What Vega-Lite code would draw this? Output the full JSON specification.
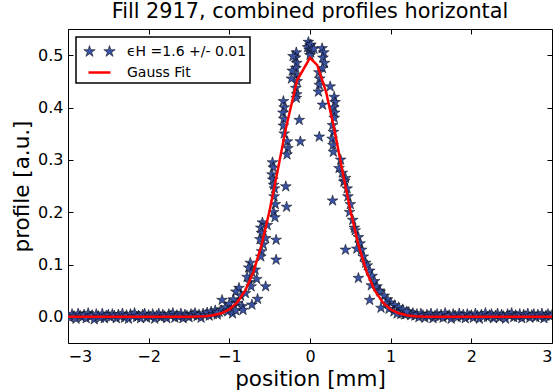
{
  "$schema": "https://vega.github.io/schema/vega-lite/v6.json",
  "width": 484,
  "height": 314,
  "autosize": {"type": "none"},
  "padding": {"left": 68, "top": 29, "right": 5, "bottom": 49},
  "background": "white",
  "title": {"text": "Fill 2917, combined profiles horizontal", "font": "DejaVu Sans", "fontSize": 20.8, "fontWeight": "normal", "color": "black", "anchor": "middle", "frame": "group", "offset": 6},
  "config": {
    "view": {"stroke": "black", "strokeWidth": 1},
    "axis": {"labelFont": "DejaVu Sans", "titleFont": "DejaVu Sans", "labelFontSize": 16, "titleFontSize": 21.5, "labelColor": "black", "titleColor": "black", "titleFontWeight": "normal", "grid": false, "domain": false, "tickColor": "black", "tickSize": -5, "labelPadding": 10},
    "legend": {"orient": "top-left", "offset": 8, "padding": 3, "strokeColor": "black", "strokeWidth": 1.5, "fillColor": "white", "labelFont": "DejaVu Sans", "labelFontSize": 14, "labelColor": "black", "symbolSize": 484, "symbolOffset": 8, "labelOffset": 15, "rowPadding": 1, "title": null, "symbolOpacity": 1}
  },
  "datasets": {
    "profile": [
      {"x": -3.000, "y": 0.003}, {"x": -2.975, "y": -0.002}, {"x": -2.950, "y": 0.005}, {"x": -2.925, "y": 0.001}, {"x": -2.900, "y": -0.004}, {"x": -2.875, "y": 0.006}, {"x": -2.850, "y": 0.002}, {"x": -2.825, "y": -0.001}, {"x": -2.800, "y": 0.004}, {"x": -2.775, "y": -0.003},
      {"x": -2.750, "y": 0.007}, {"x": -2.725, "y": 0.000}, {"x": -2.700, "y": 0.003}, {"x": -2.675, "y": -0.005}, {"x": -2.650, "y": 0.005}, {"x": -2.625, "y": 0.001}, {"x": -2.600, "y": -0.002}, {"x": -2.575, "y": 0.006}, {"x": -2.550, "y": -0.003}, {"x": -2.525, "y": 0.002},
      {"x": -2.500, "y": 0.004}, {"x": -2.475, "y": -0.001}, {"x": -2.450, "y": 0.005}, {"x": -2.425, "y": 0.002}, {"x": -2.400, "y": -0.003}, {"x": -2.375, "y": 0.004}, {"x": -2.350, "y": 0.000}, {"x": -2.325, "y": 0.006}, {"x": -2.300, "y": -0.002}, {"x": -2.275, "y": 0.003},
      {"x": -2.250, "y": -0.004}, {"x": -2.225, "y": 0.005}, {"x": -2.200, "y": 0.001}, {"x": -2.175, "y": 0.007}, {"x": -2.150, "y": -0.001}, {"x": -2.125, "y": 0.002}, {"x": -2.100, "y": -0.003}, {"x": -2.075, "y": 0.004}, {"x": -2.050, "y": 0.006}, {"x": -2.025, "y": -0.002},
      {"x": -2.000, "y": 0.003}, {"x": -1.975, "y": 0.000}, {"x": -1.950, "y": 0.005}, {"x": -1.925, "y": -0.004}, {"x": -1.900, "y": 0.002}, {"x": -1.875, "y": 0.006}, {"x": -1.850, "y": -0.001}, {"x": -1.825, "y": 0.004}, {"x": -1.800, "y": 0.001}, {"x": -1.775, "y": -0.003},
      {"x": -1.750, "y": 0.005}, {"x": -1.725, "y": 0.002}, {"x": -1.700, "y": 0.007}, {"x": -1.675, "y": -0.002}, {"x": -1.650, "y": 0.003}, {"x": -1.625, "y": 0.000}, {"x": -1.600, "y": 0.006}, {"x": -1.575, "y": -0.003}, {"x": -1.550, "y": 0.004}, {"x": -1.525, "y": 0.002},
      {"x": -1.500, "y": -0.001}, {"x": -1.475, "y": 0.005}, {"x": -1.450, "y": 0.003}, {"x": -1.425, "y": 0.007}, {"x": -1.400, "y": 0.001}, {"x": -1.375, "y": 0.004}, {"x": -1.350, "y": -0.002}, {"x": -1.325, "y": 0.006}, {"x": -1.300, "y": 0.003}, {"x": -1.275, "y": 0.008},
      {"x": -1.250, "y": 0.002}, {"x": -1.225, "y": 0.010}, {"x": -1.200, "y": 0.005}, {"x": -1.175, "y": 0.012}, {"x": -1.150, "y": 0.004}, {"x": -1.125, "y": 0.009},
      {"x": 1.125, "y": 0.005}, {"x": 1.150, "y": 0.011}, {"x": 1.175, "y": 0.004},
      {"x": 1.200, "y": 0.006}, {"x": 1.225, "y": 0.009}, {"x": 1.250, "y": 0.003}, {"x": 1.275, "y": 0.007}, {"x": 1.300, "y": 0.002}, {"x": 1.325, "y": 0.005}, {"x": 1.350, "y": -0.001}, {"x": 1.375, "y": 0.006}, {"x": 1.400, "y": 0.003}, {"x": 1.425, "y": -0.002},
      {"x": 1.450, "y": 0.004}, {"x": 1.475, "y": 0.001}, {"x": 1.500, "y": 0.006}, {"x": 1.525, "y": -0.003}, {"x": 1.550, "y": 0.002}, {"x": 1.575, "y": 0.005}, {"x": 1.600, "y": 0.000}, {"x": 1.625, "y": 0.004}, {"x": 1.650, "y": -0.002}, {"x": 1.675, "y": 0.007},
      {"x": 1.700, "y": 0.001}, {"x": 1.725, "y": 0.003}, {"x": 1.750, "y": -0.004}, {"x": 1.775, "y": 0.005}, {"x": 1.800, "y": 0.002}, {"x": 1.825, "y": -0.001}, {"x": 1.850, "y": 0.006}, {"x": 1.875, "y": 0.000}, {"x": 1.900, "y": 0.004}, {"x": 1.925, "y": -0.003},
      {"x": 1.950, "y": 0.005}, {"x": 1.975, "y": 0.001}, {"x": 2.000, "y": 0.003}, {"x": 2.025, "y": -0.002}, {"x": 2.050, "y": 0.006}, {"x": 2.075, "y": 0.002}, {"x": 2.100, "y": -0.004}, {"x": 2.125, "y": 0.004}, {"x": 2.150, "y": 0.000}, {"x": 2.175, "y": 0.007},
      {"x": 2.200, "y": -0.001}, {"x": 2.225, "y": 0.003}, {"x": 2.250, "y": 0.005}, {"x": 2.275, "y": -0.003}, {"x": 2.300, "y": 0.002}, {"x": 2.325, "y": 0.006}, {"x": 2.350, "y": -0.002}, {"x": 2.375, "y": 0.004}, {"x": 2.400, "y": 0.001}, {"x": 2.425, "y": -0.004},
      {"x": 2.450, "y": 0.005}, {"x": 2.475, "y": 0.002}, {"x": 2.500, "y": 0.007}, {"x": 2.525, "y": -0.001}, {"x": 2.550, "y": 0.003}, {"x": 2.575, "y": 0.000}, {"x": 2.600, "y": 0.005}, {"x": 2.625, "y": -0.003}, {"x": 2.650, "y": 0.004}, {"x": 2.675, "y": 0.001},
      {"x": 2.700, "y": 0.006}, {"x": 2.725, "y": -0.002}, {"x": 2.750, "y": 0.003}, {"x": 2.775, "y": 0.005}, {"x": 2.800, "y": -0.001}, {"x": 2.825, "y": 0.004}, {"x": 2.850, "y": 0.000}, {"x": 2.875, "y": 0.006}, {"x": 2.900, "y": -0.003}, {"x": 2.925, "y": 0.002},
      {"x": 2.950, "y": 0.005}, {"x": 2.975, "y": 0.001}, {"x": 3.000, "y": 0.003},

      {"x": -0.02, "y": 0.525}, {"x": 0.00, "y": 0.518}, {"x": -0.01, "y": 0.510}, {"x": 0.01, "y": 0.505}, {"x": -0.03, "y": 0.515},
      {"x": -0.17, "y": 0.505}, {"x": -0.18, "y": 0.495}, {"x": -0.165, "y": 0.485}, {"x": -0.175, "y": 0.475}, {"x": -0.17, "y": 0.462}, {"x": -0.16, "y": 0.450}, {"x": -0.175, "y": 0.437}, {"x": -0.165, "y": 0.425}, {"x": -0.17, "y": 0.418},
      {"x": -0.22, "y": 0.470}, {"x": -0.23, "y": 0.455}, {"x": -0.21, "y": 0.498},
      {"x": -0.33, "y": 0.412}, {"x": -0.32, "y": 0.400}, {"x": -0.335, "y": 0.390}, {"x": -0.325, "y": 0.378}, {"x": -0.33, "y": 0.365}, {"x": -0.32, "y": 0.350},
      {"x": -0.28, "y": 0.335}, {"x": -0.275, "y": 0.322}, {"x": -0.285, "y": 0.310},
      {"x": -0.465, "y": 0.295}, {"x": -0.455, "y": 0.285}, {"x": -0.47, "y": 0.272}, {"x": -0.46, "y": 0.262}, {"x": -0.45, "y": 0.252},
      {"x": -0.44, "y": 0.245}, {"x": -0.445, "y": 0.230}, {"x": -0.43, "y": 0.215}, {"x": -0.45, "y": 0.200}, {"x": -0.435, "y": 0.190},
      {"x": -0.59, "y": 0.180}, {"x": -0.61, "y": 0.170}, {"x": -0.60, "y": 0.160}, {"x": -0.62, "y": 0.148}, {"x": -0.58, "y": 0.138}, {"x": -0.60, "y": 0.125}, {"x": -0.61, "y": 0.115}, {"x": -0.55, "y": 0.150}, {"x": -0.53, "y": 0.175},
      {"x": -0.74, "y": 0.103}, {"x": -0.76, "y": 0.094}, {"x": -0.72, "y": 0.085}, {"x": -0.78, "y": 0.076}, {"x": -0.75, "y": 0.066}, {"x": -0.73, "y": 0.058}, {"x": -0.68, "y": 0.090}, {"x": -0.66, "y": 0.072},
      {"x": -0.88, "y": 0.055}, {"x": -0.92, "y": 0.048}, {"x": -0.86, "y": 0.040}, {"x": -0.95, "y": 0.033}, {"x": -0.90, "y": 0.026}, {"x": -0.84, "y": 0.020}, {"x": -0.80, "y": 0.045}, {"x": -0.98, "y": 0.018},
      {"x": -1.00, "y": 0.025}, {"x": -1.05, "y": 0.018}, {"x": -1.10, "y": 0.012}, {"x": -1.15, "y": 0.008}, {"x": -1.02, "y": 0.010}, {"x": -0.96, "y": 0.006}, {"x": -0.92, "y": 0.012},
      {"x": -0.133, "y": 0.376}, {"x": -0.12, "y": 0.335}, {"x": -0.30, "y": 0.249}, {"x": -0.29, "y": 0.210}, {"x": -0.42, "y": 0.147}, {"x": -0.42, "y": 0.109}, {"x": -0.55, "y": 0.058}, {"x": -1.09, "y": 0.032}, {"x": -0.72, "y": 0.023}, {"x": -0.83, "y": 0.013}, {"x": -0.65, "y": 0.034},

      {"x": 0.01, "y": 0.520}, {"x": 0.02, "y": 0.510}, {"x": 0.00, "y": 0.500}, {"x": 0.05, "y": 0.512},
      {"x": 0.15, "y": 0.513}, {"x": 0.17, "y": 0.505}, {"x": 0.16, "y": 0.495}, {"x": 0.18, "y": 0.485}, {"x": 0.155, "y": 0.475},
      {"x": 0.11, "y": 0.467}, {"x": 0.12, "y": 0.455}, {"x": 0.115, "y": 0.443}, {"x": 0.105, "y": 0.430},
      {"x": 0.30, "y": 0.420}, {"x": 0.31, "y": 0.410}, {"x": 0.295, "y": 0.400}, {"x": 0.305, "y": 0.390}, {"x": 0.30, "y": 0.380}, {"x": 0.25, "y": 0.440},
      {"x": 0.28, "y": 0.366}, {"x": 0.29, "y": 0.353}, {"x": 0.275, "y": 0.340}, {"x": 0.285, "y": 0.328}, {"x": 0.29, "y": 0.315},
      {"x": 0.36, "y": 0.284}, {"x": 0.40, "y": 0.275}, {"x": 0.44, "y": 0.265}, {"x": 0.42, "y": 0.258}, {"x": 0.38, "y": 0.300},
      {"x": 0.43, "y": 0.260}, {"x": 0.46, "y": 0.245}, {"x": 0.47, "y": 0.230}, {"x": 0.50, "y": 0.215}, {"x": 0.49, "y": 0.200}, {"x": 0.53, "y": 0.185}, {"x": 0.55, "y": 0.170},
      {"x": 0.56, "y": 0.165}, {"x": 0.60, "y": 0.152}, {"x": 0.62, "y": 0.140}, {"x": 0.64, "y": 0.128}, {"x": 0.66, "y": 0.115}, {"x": 0.69, "y": 0.103}, {"x": 0.58, "y": 0.130},
      {"x": 0.71, "y": 0.098}, {"x": 0.74, "y": 0.088}, {"x": 0.77, "y": 0.078}, {"x": 0.80, "y": 0.068}, {"x": 0.83, "y": 0.058}, {"x": 0.86, "y": 0.050}, {"x": 0.76, "y": 0.060},
      {"x": 0.87, "y": 0.048}, {"x": 0.92, "y": 0.040}, {"x": 0.96, "y": 0.033}, {"x": 1.00, "y": 0.027}, {"x": 1.05, "y": 0.022}, {"x": 0.94, "y": 0.025}, {"x": 0.98, "y": 0.015},
      {"x": 1.10, "y": 0.018}, {"x": 1.15, "y": 0.014}, {"x": 1.20, "y": 0.010}, {"x": 1.04, "y": 0.010}, {"x": 1.08, "y": 0.006},
      {"x": 0.156, "y": 0.405}, {"x": 0.115, "y": 0.344}, {"x": 0.28, "y": 0.222}, {"x": 0.44, "y": 0.128}, {"x": 0.60, "y": 0.074}, {"x": 0.74, "y": 0.032}, {"x": 0.88, "y": 0.017}
    ],
    "fit": [
      {"x": -3.0, "y": 0}, {"x": -2.5, "y": 0}, {"x": -2.0, "y": 0}, {"x": -1.6, "y": 0}, {"x": -1.5, "y": 0.0002}, {"x": -1.4, "y": 0.0005}, {"x": -1.3, "y": 0.0012}, {"x": -1.2, "y": 0.003}, {"x": -1.1, "y": 0.0067}, {"x": -1.0, "y": 0.0141},
      {"x": -0.9, "y": 0.0278}, {"x": -0.8, "y": 0.0509}, {"x": -0.7, "y": 0.0867}, {"x": -0.6, "y": 0.1376}, {"x": -0.5, "y": 0.2035}, {"x": -0.4, "y": 0.2802}, {"x": -0.3, "y": 0.3594}, {"x": -0.16, "y": 0.452}, {"x": 0.0, "y": 0.495},
      {"x": 0.09, "y": 0.481}, {"x": 0.2, "y": 0.4294}, {"x": 0.3, "y": 0.3594}, {"x": 0.4, "y": 0.2802}, {"x": 0.5, "y": 0.2035}, {"x": 0.6, "y": 0.1376}, {"x": 0.7, "y": 0.0867}, {"x": 0.8, "y": 0.0509}, {"x": 0.9, "y": 0.0278}, {"x": 1.0, "y": 0.0141},
      {"x": 1.1, "y": 0.0067}, {"x": 1.2, "y": 0.003}, {"x": 1.3, "y": 0.0012}, {"x": 1.4, "y": 0.0005}, {"x": 1.5, "y": 0.0002}, {"x": 1.6, "y": 0}, {"x": 2.0, "y": 0}, {"x": 2.5, "y": 0}, {"x": 3.0, "y": 0}
    ]
  },
  "layer": [
    {
      "data": {"name": "profile"},
      "mark": {"type": "point", "shape": "M0,-1L0.2245,-0.309L0.951,-0.309L0.363,0.118L0.588,0.809L0,0.382L-0.588,0.809L-0.363,0.118L-0.951,-0.309L-0.2245,-0.309Z", "size": 130, "filled": true, "stroke": "black", "strokeWidth": 0.5, "opacity": 1, "clip": true},
      "encoding": {
        "x": {"field": "x", "type": "quantitative", "scale": {"domain": [-3, 3], "nice": false, "zero": false}, "axis": {"orient": "bottom", "title": "position [mm]", "values": [-3, -2, -1, 0, 1, 2, 3], "format": "d"}},
        "y": {"field": "y", "type": "quantitative", "scale": {"domain": [-0.05, 0.55], "nice": false, "zero": false}, "axis": {"orient": "left", "title": "profile [a.u.]", "values": [0, 0.1, 0.2, 0.3, 0.4, 0.5], "format": ".1f"}},
        "color": {"datum": "ϵH =1.6 +/- 0.01", "type": "nominal", "scale": {"domain": ["ϵH =1.6 +/- 0.01", "Gauss Fit"], "range": ["#3a52a4", "#ff0000"]}}
      }
    },
    {
      "data": {"name": "fit"},
      "mark": {"type": "point", "filled": true, "opacity": 0, "size": 1},
      "encoding": {
        "x": {"field": "x", "type": "quantitative", "axis": null},
        "y": {"field": "y", "type": "quantitative", "axis": null},
        "shape": {"datum": "Gauss Fit", "type": "nominal", "scale": {"domain": ["ϵH =1.6 +/- 0.01", "Gauss Fit"], "range": ["M-0.91,-0.55L-0.7865,-0.17L-0.387,-0.17L-0.7103,0.0649L-0.587,0.445L-0.91,0.21L-1.233,0.445L-1.1097,0.0649L-1.433,-0.17L-1.0335,-0.17ZM0.91,-0.55L1.0335,-0.17L1.433,-0.17L1.1097,0.0649L1.233,0.445L0.91,0.21L0.587,0.445L0.7103,0.0649L0.387,-0.17L0.7865,-0.17Z", "stroke"]}},
        "stroke": {"datum": "Gauss Fit", "type": "nominal", "scale": {"domain": ["ϵH =1.6 +/- 0.01", "Gauss Fit"], "range": ["#000000", "#ff0000"]}},
        "strokeWidth": {"datum": "Gauss Fit", "type": "nominal", "scale": {"domain": ["ϵH =1.6 +/- 0.01", "Gauss Fit"], "range": [0.5, 2.5]}}
      }
    },
    {
      "data": {"name": "fit"},
      "mark": {"type": "line", "strokeWidth": 2.5, "clip": true, "color": "#ff0000"},
      "encoding": {
        "x": {"field": "x", "type": "quantitative", "scale": {"domain": [-3, 3], "nice": false, "zero": false}, "axis": {"orient": "top", "title": null, "labels": false, "values": [-3, -2, -1, 0, 1, 2, 3]}},
        "y": {"field": "y", "type": "quantitative", "scale": {"domain": [-0.05, 0.55], "nice": false, "zero": false}, "axis": {"orient": "right", "title": null, "labels": false, "values": [0, 0.1, 0.2, 0.3, 0.4, 0.5]}}
      }
    }
  ],
  "resolve": {"axis": {"x": "independent", "y": "independent"}}
}
